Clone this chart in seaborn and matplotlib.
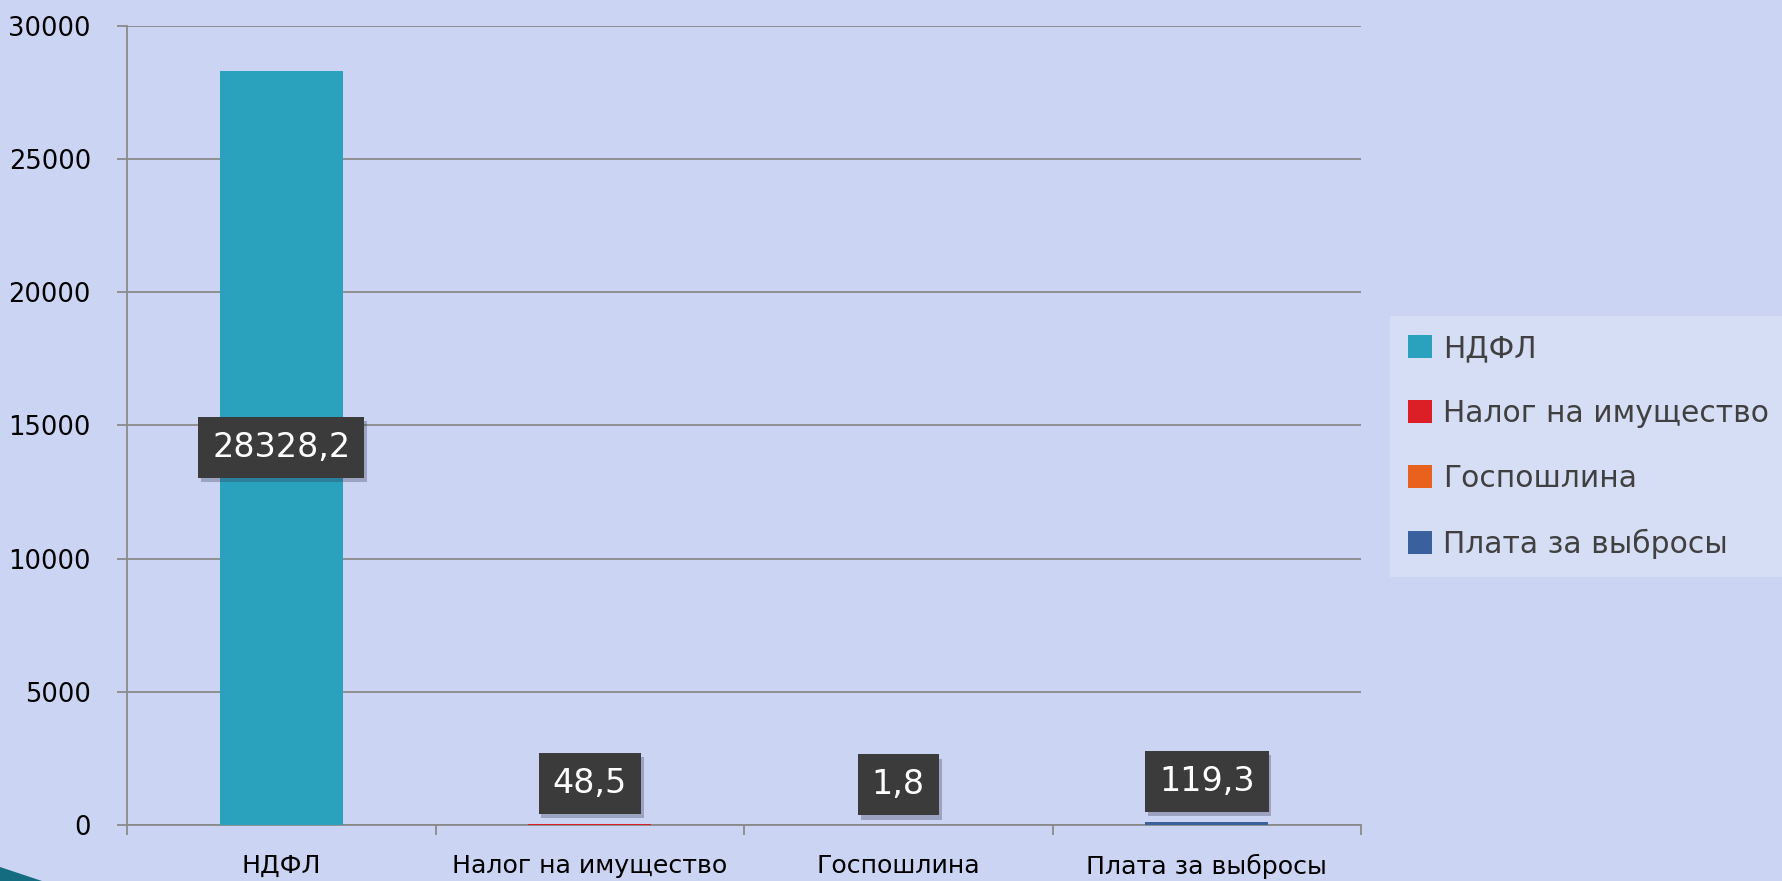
"""
Tax revenue by type: single bar chart with value boxes and legend.
"""

import matplotlib
matplotlib.use("Agg")
import matplotlib.pyplot as plt
import matplotlib.patheffects as pe
from matplotlib.patches import Polygon, Patch
import seaborn as sns

# ---- data ----
categories = ["НДФЛ", "Налог на имущество", "Госпошлина", "Плата за выбросы"]
values = [28328.2, 48.5, 1.8, 119.3]
value_labels = ["28328,2", "48,5", "1,8", "119,3"]
colors = ["#2aa1bd", "#dc1f26", "#e8621e", "#3a619e"]
y_ticks = [0, 5000, 10000, 15000, 20000, 25000, 30000]

sns.set_style("white")
plt.rcParams["font.family"] = ["DejaVu Sans"]

W, H = 1783, 881
fig = plt.figure(figsize=(W / 100, H / 100), dpi=100, facecolor="#cbd5f3")
ax = fig.add_axes([127 / W, 56 / H, (1361 - 127) / W, (825 - 26) / H])
ax.set_facecolor("none")

sns.barplot(x=categories, y=values, hue=categories, palette=colors,
            width=0.4, dodge=False, saturation=1, linewidth=0,
            legend=False, ax=ax, zorder=3)

ax.set_xlim(-0.5, 3.5)
ax.set_ylim(0, 30000)
ax.set_yticks(y_ticks)
ax.set_yticklabels([str(t) for t in y_ticks])
ax.yaxis.grid(True, color="#8a8a8a", linewidth=1.3, zorder=1)
ax.set_axisbelow(True)

grey = "#8a8a8a"
for side in ["top", "right"]:
    ax.spines[side].set_visible(False)
for side in ["left", "bottom"]:
    ax.spines[side].set_color(grey)
    ax.spines[side].set_linewidth(1.3)

ax.tick_params(axis="y", length=7, width=1.3, color=grey, direction="out",
               pad=19, labelsize=18.5, labelcolor="black", left=True)
ax.tick_params(axis="x", which="major", length=0, pad=21, labelsize=18.2,
               labelcolor="black")
ax.set_xticks([-0.5, 0.5, 1.5, 2.5, 3.5], minor=True)
ax.tick_params(axis="x", which="minor", length=7, width=1.3, color=grey,
               direction="out", bottom=True)
ax.set_xlabel("")
ax.set_ylabel("")

# value boxes
shadow = [pe.withSimplePatchShadow(offset=(2, -3), shadow_rgbFace="#303050",
                                   alpha=0.3)]
for i, (v, lab) in enumerate(zip(values, value_labels)):
    if v > 5000:
        t = ax.text(i, v / 2, lab, ha="center", va="center", fontsize=24,
                    color="white", zorder=6)
    else:
        t = ax.annotate(lab, (i, v), xytext=(0, 17), textcoords="offset points",
                        ha="center", va="bottom", fontsize=24, color="white",
                        zorder=6)
    t.set_bbox(dict(boxstyle="square,pad=0.42", facecolor="#3b3b3b",
                    edgecolor="none"))
    t.get_bbox_patch().set_path_effects(shadow)

# legend
handles = [Patch(facecolor=c, edgecolor="none") for c in colors]
leg = fig.legend(handles, categories, loc="upper left",
                 bbox_to_anchor=(1390 / W, 1 - 316 / H),
                 fontsize=21.4, frameon=True, fancybox=False, framealpha=0.22,
                 handlelength=0.8, handleheight=0.8, handletextpad=0.4,
                 labelspacing=1.21, borderpad=0.6, borderaxespad=0)
leg.get_frame().set_facecolor("white")
leg.get_frame().set_edgecolor("none")
for txt in leg.get_texts():
    txt.set_color("#404040")

# slide corner decoration
fig.patches.append(Polygon([(0, 0), (0, 14 / H), (42 / W, 0)], closed=True,
                           transform=fig.transFigure, facecolor="#136c80",
                           edgecolor="none"))

fig.savefig("out.png", dpi=100, facecolor=fig.get_facecolor())
